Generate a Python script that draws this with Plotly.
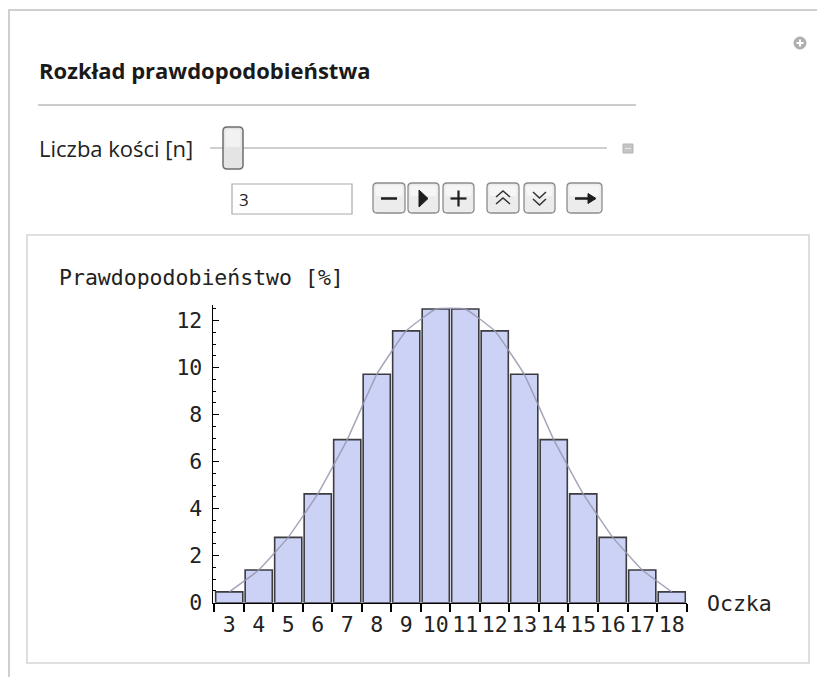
import plotly.graph_objects as go

# ---- data ----
sums = [3, 4, 5, 6, 7, 8, 9, 10, 11, 12, 13, 14, 15, 16, 17, 18]
probability_pct = [0.46, 1.39, 2.78, 4.63, 6.94, 9.72, 11.57, 12.5,
                   12.5, 11.57, 9.72, 6.94, 4.63, 2.78, 1.39, 0.46]
x_tick_labels = [str(s) for s in sums]
y_tick_values = [0, 2, 4, 6, 8, 10, 12]
n_dice = "3"

W, H = 817, 677
MONO = "DejaVu Sans Mono"
UI = "Open Sans"


def dom_x(p0, p1):
    return [p0 / W, p1 / W]


def dom_y(top, bottom):
    return [1 - bottom / H, 1 - top / H]


def rrect(x0, y0, x1, y1, r):
    return (f"M {x0+r},{y0} L {x1-r},{y0} Q {x1},{y0} {x1},{y0+r} "
            f"L {x1},{y1-r} Q {x1},{y1} {x1-r},{y1} L {x0+r},{y1} "
            f"Q {x0},{y1} {x0},{y1-r} L {x0},{y0+r} Q {x0},{y0} {x0+r},{y0} Z")


fig = go.Figure()

fig.add_trace(go.Bar(
    x=sums, y=probability_pct,
    marker=dict(color="rgb(204,210,245)",
                line=dict(color="rgba(50,50,55,0.95)", width=1.6)),
    width=0.92, hoverinfo="x+y", showlegend=False,
))
fig.add_trace(go.Scatter(
    x=sums, y=probability_pct, mode="lines",
    line=dict(color="rgba(150,150,175,0.85)", width=1.5, shape="spline",
              smoothing=0.3),
    hoverinfo="skip", showlegend=False,
))
# invisible trace to establish the pixel overlay axes
fig.add_trace(go.Scatter(x=[0, W], y=[0, H], mode="markers",
                         marker=dict(opacity=0), xaxis="x2", yaxis="y2",
                         hoverinfo="skip", showlegend=False))

minor_y = [v / 2 for v in range(1, 26) if v % 4 != 0]
minor_x = [s - 0.5 for s in sums] + [sums[-1] + 0.5]

fig.update_layout(
    width=W, height=H, autosize=False,
    margin=dict(l=0, r=0, t=0, b=0, pad=0),
    paper_bgcolor="white", plot_bgcolor="rgba(0,0,0,0)",
    xaxis=dict(
        domain=dom_x(212.7, 686.5), range=[2.44, 18.5], automargin=False,
        anchor="y", showgrid=False, zeroline=False,
        showline=True, linecolor="black", linewidth=1.2,
        tickmode="array", tickvals=sums, ticktext=x_tick_labels,
        ticks="", ticklabelstandoff=2,
        tickfont=dict(family=MONO, size=21.5, color="#222"),
        minor=dict(tickmode="array", tickvals=minor_x, ticks="outside",
                   ticklen=8, tickwidth=2.2, tickcolor="black"),
        fixedrange=True,
    ),
    yaxis=dict(
        domain=dom_y(305, 602.7), range=[0, 12.67], automargin=False,
        anchor="x", showgrid=False, zeroline=False,
        showline=True, linecolor="black", linewidth=1.2,
        tickmode="array", tickvals=y_tick_values,
        ticks="inside", ticklen=6, tickwidth=1.2, tickcolor="black",
        ticklabelstandoff=5,
        tickfont=dict(family=MONO, size=21.5, color="#222"),
        minor=dict(tickmode="array", tickvals=minor_y, ticks="inside",
                   ticklen=3, tickwidth=1, tickcolor="black"),
        fixedrange=True,
    ),
    xaxis2=dict(domain=[0, 1], range=[0, W], visible=False, anchor="y2",
                automargin=False, fixedrange=True),
    yaxis2=dict(domain=[0, 1], range=[H, 0], visible=False, anchor="x2",
                automargin=False, fixedrange=True),
)

shapes = []
P = dict(xref="x2", yref="y2")
# outer frame
shapes.append(dict(type="path", path=f"M 9,{H} L 9,10 L {W},10",
                   line=dict(color="#cfcfcf", width=2), **P))
# inner panel
shapes.append(dict(type="rect", x0=27, y0=235, x1=809, y1=663,
                   line=dict(color="#d6d6d6", width=1.6), layer="below", **P))
# separator
shapes.append(dict(type="line", x0=38, y0=105, x1=636, y1=105,
                   line=dict(color="#cccccc", width=2), **P))
# plus icon
shapes.append(dict(type="circle", x0=794, y0=37, x1=806, y1=49,
                   fillcolor="#b0b0b0", line=dict(color="#a8a8a8", width=1), **P))
shapes.append(dict(type="line", x0=796.5, y0=43, x1=803.5, y1=43,
                   line=dict(color="white", width=2), **P))
shapes.append(dict(type="line", x0=800, y0=39.5, x1=800, y1=46.5,
                   line=dict(color="white", width=2), **P))
# slider track
shapes.append(dict(type="line", x0=210, y0=148, x1=607, y1=148,
                   line=dict(color="#a0a0a0", width=1.2), **P))
# slider thumb
shapes.append(dict(type="path", path=rrect(223, 127, 243, 169, 4),
                   fillcolor="#e4e4e4", line=dict(color="#6e6e6e", width=1.5), **P))
shapes.append(dict(type="path", path=rrect(225.5, 129.5, 240.5, 147, 2),
                   fillcolor="#f2f2f2", line=dict(width=0), **P))
# small square at end of slider
shapes.append(dict(type="rect", x0=623, y0=144, x1=633, y1=153,
                   fillcolor="#c4c4c4", line=dict(color="#b5b5b5", width=1), **P))
shapes.append(dict(type="line", x0=625, y0=148.5, x1=631, y1=148.5,
                   line=dict(color="#e8e8e8", width=1), **P))
# input box
shapes.append(dict(type="rect", x0=232, y0=184, x1=352, y1=214,
                   fillcolor="white", line=dict(color="#a9a9a9", width=1.2), **P))
# buttons
buttons = [(373, 405), (408, 439), (443, 474), (487, 519), (524, 555), (567, 602)]
for bx0, bx1 in buttons:
    shapes.append(dict(type="path", path=rrect(bx0, 183, bx1, 213, 4),
                       fillcolor="#ececec", line=dict(color="#8c8c8c", width=1.3), **P))
    shapes.append(dict(type="path", path=rrect(bx0 + 2.5, 185.5, bx1 - 2.5, 196, 2),
                       fillcolor="#f6f6f6", line=dict(width=0), **P))
ic = "#1e1e1e"
# minus
shapes.append(dict(type="line", x0=381, y0=198.5, x1=397, y1=198.5,
                   line=dict(color=ic, width=2.5), **P))
# play
shapes.append(dict(type="path", path="M 419,190 L 428,198.5 L 419,207 Z",
                   fillcolor=ic, line=dict(color=ic, width=1), **P))
# plus
shapes.append(dict(type="line", x0=450.5, y0=198.5, x1=466.5, y1=198.5,
                   line=dict(color=ic, width=2.2), **P))
shapes.append(dict(type="line", x0=458.5, y0=190.5, x1=458.5, y1=206.5,
                   line=dict(color=ic, width=2.2), **P))
# double chevron up
shapes.append(dict(type="path", path="M 496,197 L 503,191 L 510,197 M 496,204 L 503,198 L 510,204",
                   line=dict(color="#333", width=1.5), **P))
# double chevron down
shapes.append(dict(type="path", path="M 533,192 L 539.5,198 L 546,192 M 533,199 L 539.5,205 L 546,199",
                   line=dict(color="#333", width=1.5), **P))
# arrow right
shapes.append(dict(type="line", x0=575, y0=198.5, x1=590, y1=198.5,
                   line=dict(color=ic, width=2.5), **P))
shapes.append(dict(type="path", path="M 588,193.5 L 596,198.5 L 588,203.5 Z",
                   fillcolor=ic, line=dict(color=ic, width=1), **P))
fig.update_layout(shapes=shapes)

ann = []
ann.append(dict(text="<b>Rozkład prawdopodobieństwa</b>", x=37, y=70,
                xanchor="left", yanchor="middle", showarrow=False,
                font=dict(family=UI, size=22, color="#1a1a1a"), **P))
ann.append(dict(text="Liczba kości [n]", x=37, y=148,
                xanchor="left", yanchor="middle", showarrow=False,
                font=dict(family=UI, size=22, color="#222"), **P))
ann.append(dict(text=n_dice, x=237, y=199,
                xanchor="left", yanchor="middle", showarrow=False,
                font=dict(family=UI, size=17, color="#222"), **P))
ann.append(dict(text="Prawdopodobieństwo [%]", x=57, y=277,
                xanchor="left", yanchor="middle", showarrow=False,
                font=dict(family=MONO, size=21.5, color="#222"), **P))
ann.append(dict(text="Oczka", x=705, y=603,
                xanchor="left", yanchor="middle", showarrow=False,
                font=dict(family=MONO, size=21.5, color="#222"), **P))
fig.update_layout(annotations=ann)

css_fix = """
(function(){
  var d = document.documentElement, b = document.body;
  d.style.margin = '0'; d.style.padding = '0'; d.style.overflow = 'hidden';
  b.style.margin = '0'; b.style.padding = '0'; b.style.overflow = 'hidden';
})();
"""

fig.write_html(
    "out.html",
    config={"displayModeBar": False, "responsive": False},
    post_script=css_fix,
)
